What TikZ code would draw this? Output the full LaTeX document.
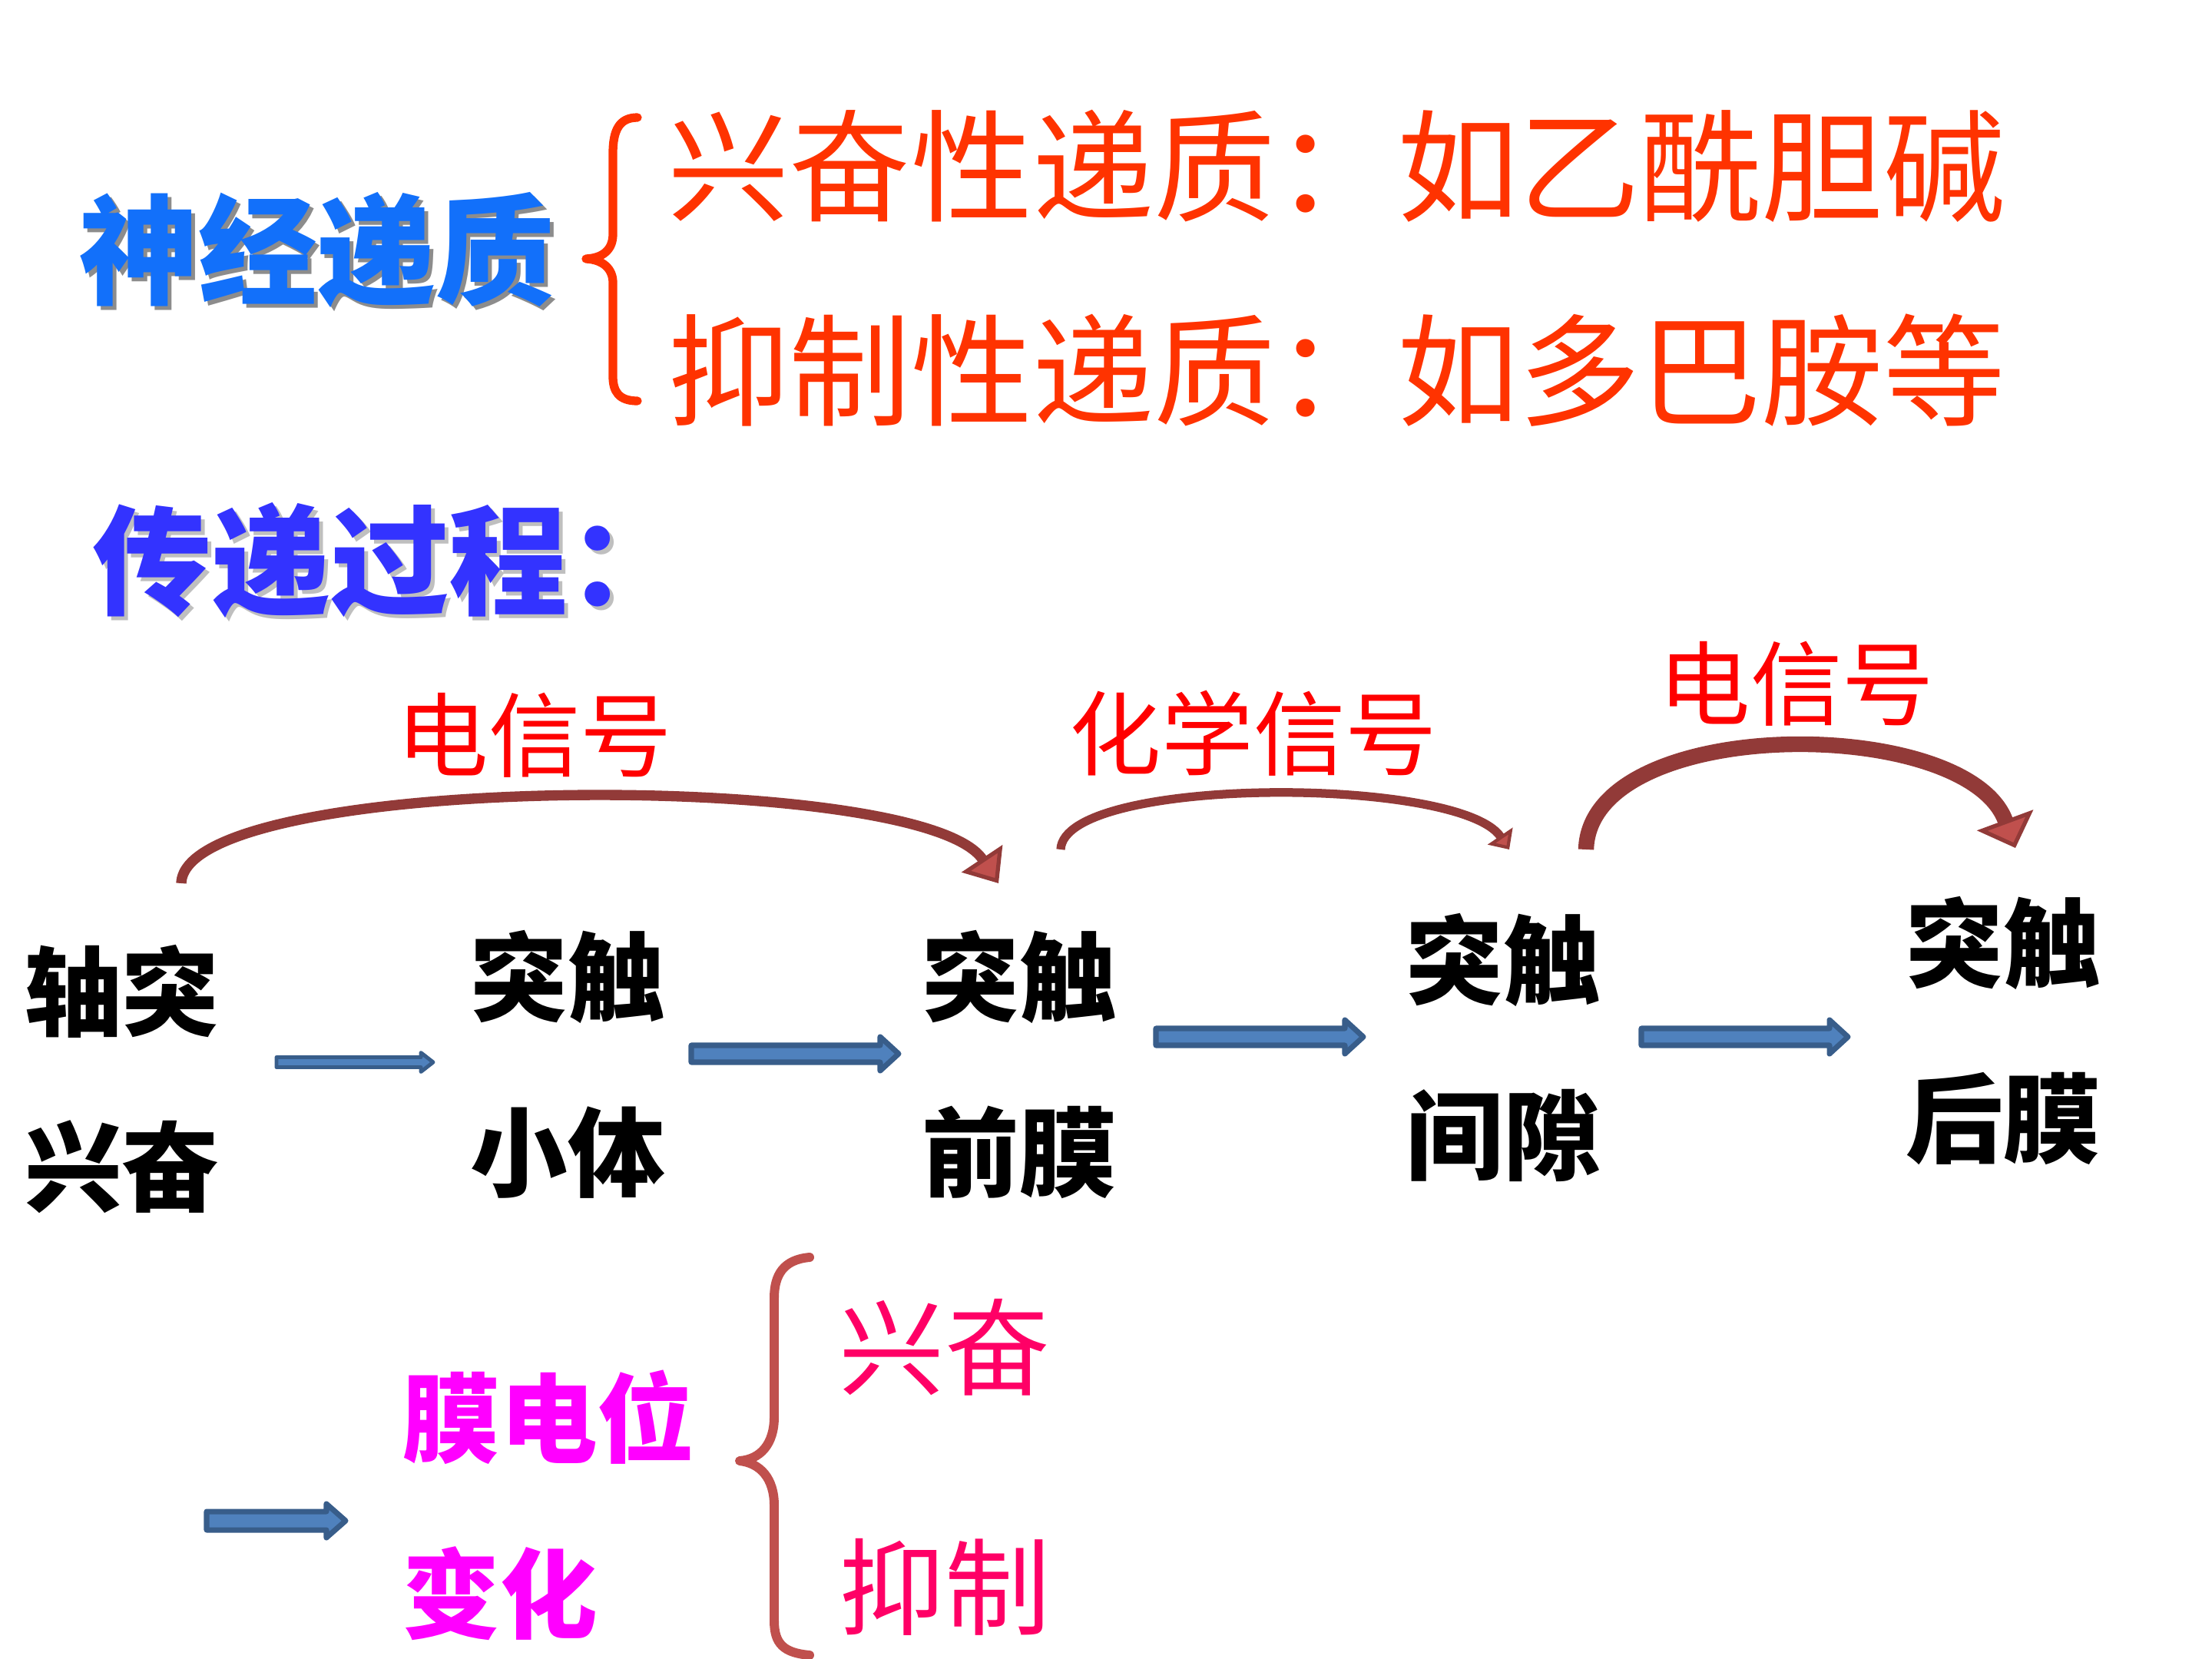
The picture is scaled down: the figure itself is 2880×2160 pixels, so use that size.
\documentclass[tikz,border=0pt]{standalone}
\usepackage{fontspec}
\newfontfamily\cjk{Noto Sans CJK SC}
\usetikzlibrary{arrows.meta,calc}

\definecolor{titleblue}{RGB}{18,112,250}
\definecolor{procblue}{RGB}{51,51,255}
\definecolor{orred}{RGB}{255,51,0}
\definecolor{sigred}{RGB}{255,0,0}
\definecolor{arcdark}{RGB}{146,58,56}
\definecolor{arcfill}{RGB}{192,80,77}
\definecolor{arrfill}{RGB}{79,129,189}
\definecolor{arrdraw}{RGB}{56,93,138}
\definecolor{magtext}{RGB}{255,0,255}
\definecolor{pinkred}{RGB}{255,0,102}

\tikzset{
	heading/.style={inner sep=0pt, font=\cjk\bfseries\fontsize{44pt}{50pt}\selectfont},
	kind/.style={inner sep=0pt, text=orred, font=\cjk\fontsize{45pt}{50pt}\selectfont},
	signal/.style={inner sep=0pt, text=sigred, font=\cjk\fontsize{34pt}{40pt}\selectfont},
	term/.style={inner sep=0pt, align=center, font=\cjk\bfseries\fontsize{36pt}{65pt}\selectfont},
	effect/.style={inner sep=0pt, text=pinkred, font=\cjk\fontsize{39pt}{44pt}\selectfont},
	sigarc/.style={draw=arcdark, line cap=butt},
	bracket/.style={line join=round, line cap=round},
	blockarrow/.style={draw=arrdraw, fill=arrfill, line width=2pt, line join=round}
}

\newcommand{\blockarrow}[5]{%
	\draw[blockarrow] ($(#1)+(0,#3)$) -- ($(#2)+(-#5,#3)$) -- ($(#2)+(-#5,#4)$) --
	(#2) -- ($(#2)+(-#5,-#4)$) -- ($(#2)+(-#5,-#3)$) -- ($(#1)+(0,-#3)$) -- cycle;}

\begin{document}
\begin{tikzpicture}[x=0.01cm, y=-0.01cm]
	\useasboundingbox[fill=white] (0,0) rectangle (2880,2160);

	\node[heading, text=black!45] (ntshadow) at (418,331) {神经递质};
	\node[heading, text=titleblue] (nt) at (413,326) {神经递质};
	\draw[bracket, orred, line width=3.2pt] (830,153) .. controls (806,153) and (798,170) .. (798,200) -- (798,305)
		.. controls (798,325) and (785,336) .. (763,337) .. controls (785,338) and (798,350) .. (798,368)
		-- (798,490) .. controls (798,510) and (806,522) .. (830,522);
	\node[kind] (la) at (1740,216) {兴奋性递质：如乙酰胆碱};
	\node[kind] (lb) at (1740,482) {抑制性递质：如多巴胺等};

	\node[heading, text=black!25, anchor=west] (ptshadow) at (125,735) {传递过程：};
	\node[heading, text=procblue, anchor=west] (pt) at (120,730) {传递过程：};

	\node[signal] (s1) at (696,957) {电信号};
	\node[signal] (s2) at (1632,955) {化学信号};
	\node[signal] (s3) at (2339,890) {电信号};

	\node[term] (zt) at (159,1405) {轴突\\兴奋};
	\node[term] (xt) at (739,1386) {突触\\小体};
	\node[term] (qm) at (1327,1386) {突触\\前膜};
	\node[term] (jx) at (1957,1364) {突触\\间隙};
	\node[term] (hm) at (2608,1342) {突触\\后膜};

	\coordinate (c1s) at (236,1150);
	\coordinate (c1e) at (1300,1150);
	\coordinate (c2s) at (1381,1106);
	\coordinate (c2e) at (1965,1106);
	\coordinate (c3s) at (2065,1106);
	\coordinate (c3e) at (2624,1104);
	\draw[sigarc, line width=3.8pt, -{Triangle[length=11pt,width=18pt,fill=arcfill,line width=1.5pt]}]
		(c1s) .. controls (240,1005) and (1200,1000) .. (c1e);
	\draw[sigarc, line width=3.2pt, -{Triangle[length=6pt,width=11pt,fill=arcfill,line width=1.2pt]}]
		(c2s) .. controls (1385,1010) and (1900,1010) .. (c2e);
	\draw[sigarc, line width=5.8pt, -{Triangle[length=11pt,width=22pt,fill=arcfill,line width=1.5pt]}]
		(c3s) .. controls (2070,930) and (2560,930) .. (c3e);

	\coordinate (a1s) at (360,1383);
	\coordinate (a1e) at (564,1383);
	\coordinate (a2s) at (900,1372);
	\coordinate (a2e) at (1170,1372);
	\coordinate (a3s) at (1505,1350);
	\coordinate (a3e) at (1775,1350);
	\coordinate (a4s) at (2137,1350);
	\coordinate (a4e) at (2406,1350);
	\coordinate (a5s) at (269,1980);
	\coordinate (a5e) at (450,1980);
	\begin{scope}[blockarrow/.append style={line width=1.4pt}]
		\blockarrow{a1s}{a1e}{6.5}{12.5}{16}
	\end{scope}
	\blockarrow{a2s}{a2e}{11}{22}{24}
	\blockarrow{a3s}{a3e}{11}{22}{24}
	\blockarrow{a4s}{a4e}{11}{22}{24}
	\blockarrow{a5s}{a5e}{12}{22}{25}

	\node[term, align=left, text=magtext, anchor=west] (mw) at (524,1960) {膜电位\\变化};
	\draw[bracket, arcfill, line width=3.4pt] (1054,1637) .. controls (1020,1640) and (1008,1660) .. (1008,1690) -- (1008,1845)
		.. controls (1008,1880) and (990,1900) .. (963,1902) .. controls (990,1905) and (1008,1925) .. (1008,1960)
		-- (1008,2110) .. controls (1008,2140) and (1020,2152) .. (1054,2155);
	\node[effect] (xf) at (1230,1754) {兴奋};
	\node[effect] (yz) at (1230,2066) {抑制};
\end{tikzpicture}
\end{document}
